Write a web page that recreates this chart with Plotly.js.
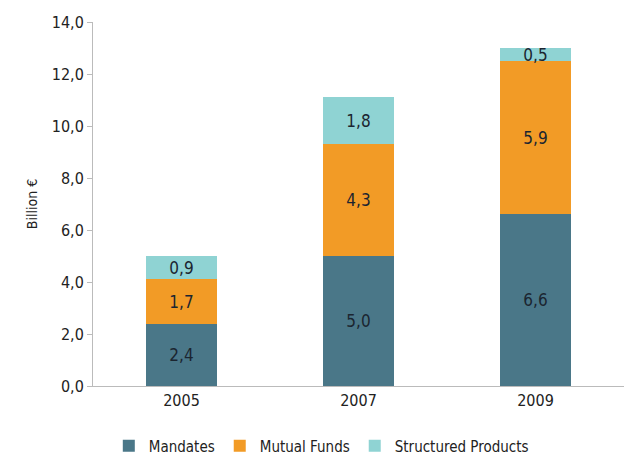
<!DOCTYPE html>
<html><head><meta charset="utf-8">
<script src="https://cdn.plot.ly/plotly-3.0.1.min.js"></script>
<style>html,body{margin:0;padding:0;background:#fff}#chart{width:630px;height:455px}</style>
</head><body><div id="chart"></div>
<script>
const years = ["2005", "2007", "2009"];
const mandates = [2.4, 5.0, 6.6];
const mutualFunds = [1.7, 4.3, 5.9];
const structured = [0.9, 1.8, 0.5];
const seriesNames = ["Mandates", "Mutual Funds", "Structured Products"];
const colors = ["#4a7788", "#f29b26", "#8fd3d3"];
const font = "DejaVu Sans Condensed, DejaVu Sans, sans-serif";

const data = [mandates, mutualFunds, structured].map((vals, i) => ({
  type: "bar", x: years, y: vals, name: seriesNames[i],
  marker: {color: colors[i]},
  texttemplate: "%{y:.1f}", textposition: "inside", insidetextanchor: "middle",
  constraintext: "none",
  textfont: {family: font, size: 17, color: "#1b2530"},
  hoverinfo: "skip", width: 0.4
}));

const layout = {
  width: 630, height: 455, barmode: "stack", separators: ",.",
  margin: {l: 93, r: 6, t: 22, b: 69},
  paper_bgcolor: "#fff", plot_bgcolor: "#fff",
  font: {family: font, size: 14, color: "#222"},
  showlegend: true,
  legend: {orientation: "h", x: 0.51, xanchor: "center", xref: "container",
    y: 0.02, yanchor: "middle", yref: "container",
    font: {family: font, size: 15, color: "#222"}, itemwidth: 30, traceorder: "normal"},
  xaxis: {type: "category", showline: true, linecolor: "#bbb", linewidth: 1, ticks: "", showgrid: false,
    tickfont: {family: font, size: 16, color: "#222"}},
  yaxis: {range: [0, 14], dtick: 2, tickformat: ".1f", showline: true, linecolor: "#bbb",
    ticks: "outside", ticklen: 5, tickcolor: "#bbb", showgrid: false, zeroline: false,
    tickfont: {family: font, size: 16, color: "#222"},
    title: {text: "Billion €", font: {family: font, size: 14, color: "#222"}, standoff: 10}}
};
Plotly.newPlot("chart", data, layout, {displayModeBar: false, staticPlot: true});
</script></body></html>
